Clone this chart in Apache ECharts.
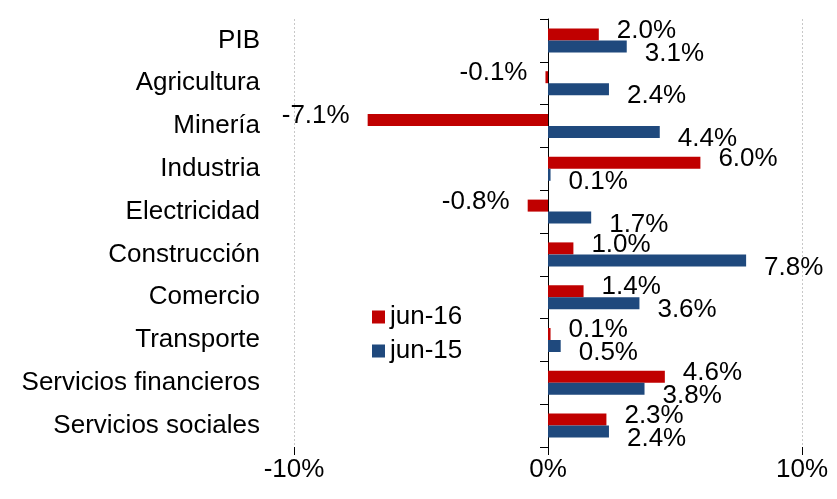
<!DOCTYPE html>
<html>
<head>
<meta charset="utf-8">
<script src="https://cdn.jsdelivr.net/npm/echarts@6/dist/echarts.min.js"></script>
<style>html,body{margin:0;padding:0;background:#fff}#c{width:837px;height:499px}</style>
</head>
<body>
<div id="c"></div>
<script>
const categories = ['PIB','Agricultura','Minería','Industria','Electricidad','Construcción','Comercio','Transporte','Servicios financieros','Servicios sociales'];
const seriesNames = ['jun-16','jun-15'];
const jun16 = [2.0,-0.1,-7.1,6.0,-0.8,1.0,1.4,0.1,4.6,2.3];
const jun15 = [3.1,2.4,4.4,0.1,1.7,7.8,3.6,0.5,3.8,2.4];
const xTicks = [-10,0,10];

const FONT = 'Arial, "Liberation Sans", sans-serif';
const FS = 26;

function items(arr) {
  return arr.map(v => ({ value: v, label: { position: v < 0 ? 'left' : 'right' } }));
}
function labelCfg(dy) {
  return {
    show: true, distance: 18, offset: [0, dy],
    formatter: p => p.value.toFixed(1) + '%',
    fontFamily: FONT, fontSize: FS, color: '#000'
  };
}

const chart = echarts.init(document.getElementById('c'), null, {renderer: 'canvas'});
chart.setOption({
  animation: false,
  backgroundColor: '#fff',
  textStyle: { fontFamily: FONT },
  grid: { left: 294, right: 35, top: 19, bottom: 52, containLabel: false, outerBoundsMode: 'none' },
  legend: {
    orient: 'vertical', left: 367, top: 299, itemGap: 8,
    icon: 'rect', itemWidth: 13, itemHeight: 13,
    textStyle: { fontFamily: FONT, fontSize: FS, color: '#000' },
    data: seriesNames
  },
  xAxis: {
    type: 'value', min: xTicks[0], max: xTicks[xTicks.length - 1], interval: 10,
    position: 'bottom',
    axisLine: { onZero: false, lineStyle: { color: '#000', width: 1 } },
    axisTick: { show: true, length: 8, lineStyle: { color: '#000' } },
    axisLabel: { formatter: '{value}%', fontFamily: FONT, fontSize: FS, color: '#000', margin: 10 },
    splitLine: { show: true, lineStyle: { type: [2, 2], color: '#c8c8c8' } }
  },
  yAxis: {
    type: 'category', data: categories, inverse: true,
    axisLine: { onZero: true, lineStyle: { color: '#000', width: 1 } },
    axisTick: { show: true, length: 8, lineStyle: { color: '#000' } },
    axisLabel: { fontFamily: FONT, fontSize: FS, color: '#000', margin: 34 },
    splitLine: { show: false }
  },
  series: [
    {
      name: seriesNames[0], type: 'bar', data: items(jun16),
      barWidth: 12, barGap: '0%',
      itemStyle: { color: '#C00000' },
      label: labelCfg(-4)
    },
    {
      name: seriesNames[1], type: 'bar', data: items(jun15),
      barWidth: 12, barGap: '0%',
      itemStyle: { color: '#1F497D' },
      label: labelCfg(7)
    }
  ]
});
</script>
</body>
</html>
